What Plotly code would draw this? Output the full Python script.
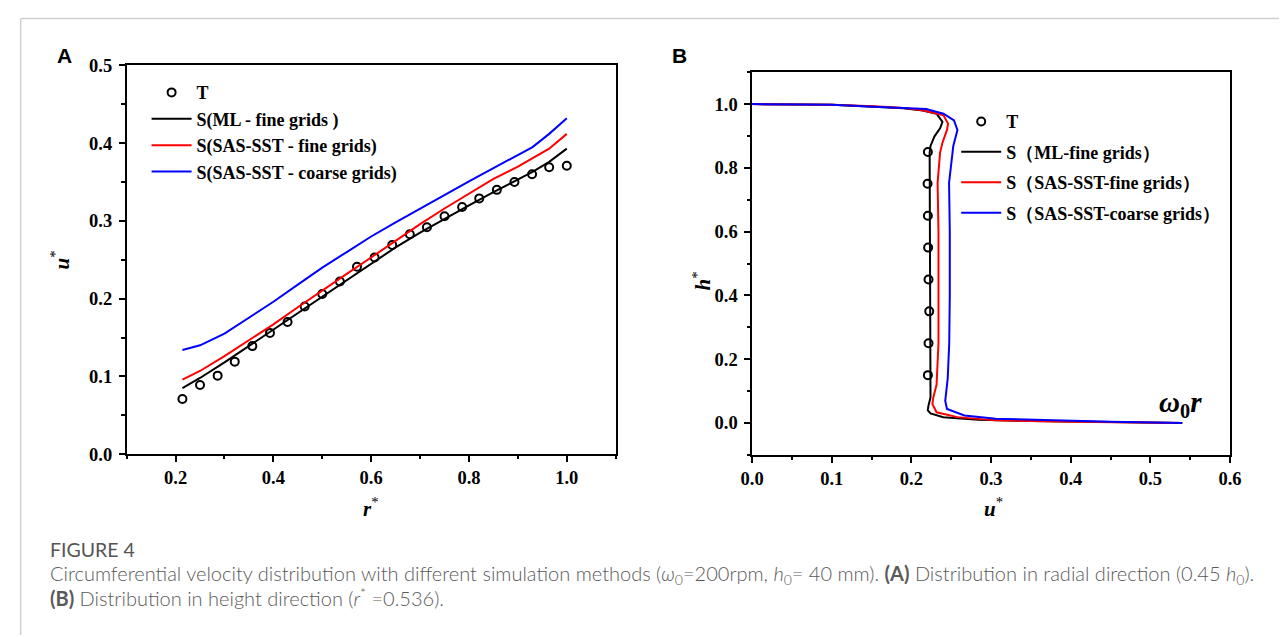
import plotly.graph_objects as go

# ---------------- Panel A data (radial direction) ----------------
r_test = [0.214, 0.250, 0.286, 0.321, 0.357, 0.393, 0.429, 0.464, 0.500, 0.536, 0.571, 0.607,
          0.643, 0.679, 0.714, 0.750, 0.786, 0.821, 0.857, 0.893, 0.929, 0.964, 1.000]
u_test = [0.071, 0.089, 0.101, 0.119, 0.139, 0.156, 0.170, 0.190, 0.206, 0.222, 0.241, 0.253,
          0.269, 0.283, 0.292, 0.306, 0.318, 0.329, 0.340, 0.350, 0.360, 0.369, 0.371]

r_sim = [0.214, 0.25, 0.30, 0.35, 0.40, 0.45, 0.50, 0.55, 0.60, 0.65, 0.70, 0.75, 0.80, 0.85,
         0.90, 0.93, 0.964, 1.0]
u_ml_fine = [0.085, 0.098, 0.118, 0.139, 0.160, 0.181, 0.203, 0.224, 0.245, 0.266, 0.285, 0.303,
             0.320, 0.337, 0.353, 0.363, 0.376, 0.393]
u_sas_fine = [0.096, 0.107, 0.126, 0.146, 0.167, 0.189, 0.211, 0.232, 0.253, 0.275, 0.296, 0.316,
              0.335, 0.354, 0.370, 0.381, 0.393, 0.412]
u_sas_coarse = [0.134, 0.140, 0.155, 0.175, 0.196, 0.218, 0.240, 0.260, 0.280, 0.298, 0.316, 0.334,
                0.351, 0.368, 0.385, 0.395, 0.412, 0.432]

# ---------------- Panel B data (height direction) ----------------
h_test = [0.15, 0.25, 0.35, 0.45, 0.55, 0.65, 0.75, 0.85]
ub_test = [0.2207, 0.2215, 0.2224, 0.2215, 0.2210, 0.2207, 0.2203, 0.2207]

ub_ml = [0.0, 0.05, 0.10, 0.153, 0.19, 0.214, 0.2316, 0.239, 0.236, 0.229, 0.224, 0.2229,
         0.223, 0.2235, 0.2235, 0.2235, 0.224, 0.2215, 0.2205, 0.224, 0.240, 0.284, 0.35, 0.45, 0.54]
hb_ml = [1.0, 0.9995, 0.998, 0.992, 0.987, 0.980, 0.970, 0.944, 0.924, 0.899, 0.869, 0.848,
         0.75, 0.5, 0.3, 0.15, 0.08, 0.055, 0.040, 0.030, 0.018, 0.010, 0.006, 0.003, 0.0]

ub_sas_fine = [0.0, 0.05, 0.10, 0.153, 0.19, 0.214, 0.2403, 0.246, 0.2447, 0.239, 0.236, 0.2329,
               0.234, 0.234, 0.234, 0.2316, 0.2275, 0.2264, 0.2316, 0.2578, 0.306, 0.40, 0.54]
hb_sas_fine = [1.0, 0.9995, 0.998, 0.993, 0.988, 0.981, 0.965, 0.939, 0.919, 0.879, 0.848, 0.753,
               0.6, 0.4, 0.25, 0.12, 0.08, 0.059, 0.0335, 0.0183, 0.0081, 0.004, 0.0]

ub_sas_coarse = [0.0, 0.05, 0.10, 0.153, 0.185, 0.2185, 0.2403, 0.2535, 0.2578, 0.2526, 0.2473,
                 0.2482, 0.2482, 0.2475, 0.2456, 0.2425, 0.2447, 0.2666, 0.306, 0.371, 0.45, 0.54]
hb_sas_coarse = [1.0, 0.9995, 0.998, 0.992, 0.989, 0.985, 0.970, 0.949, 0.919, 0.869, 0.753,
                 0.6, 0.4, 0.25, 0.14, 0.069, 0.0436, 0.0233, 0.0132, 0.0081, 0.004, 0.0]

names_a = ["T", "S(ML - fine grids )", "S(SAS-SST - fine grids)", "S(SAS-SST - coarse grids)"]
names_b = ["T", "S\uff08ML-fine grids\uff09", "S\uff08SAS-SST-fine grids\uff09",
           "S\uff08SAS-SST-coarse grids\uff09"]
colors = ["black", "#ff0000", "#0000ff"]

W, H = 1287, 637
OFF = 8  # default body margin of the page
SERIF = "Liberation Serif, Times New Roman, serif"
CAP = "Lato, Open Sans, sans-serif"

fig = go.Figure()

marker_style = dict(symbol="circle-open", size=8, color="black", line=dict(width=2, color="black"))

# Panel A
fig.add_trace(go.Scatter(x=r_test, y=u_test, mode="markers", marker=marker_style,
                         name="<b>" + names_a[0] + "</b>", legend="legend", legendgroup="a0",
                         xaxis="x", yaxis="y"))
for i, ys in enumerate([u_ml_fine, u_sas_fine, u_sas_coarse]):
    fig.add_trace(go.Scatter(x=r_sim, y=ys, mode="lines", line=dict(color=colors[i], width=2),
                             name="<b>" + names_a[i + 1] + "</b>", legend="legend",
                             legendgroup="a%d" % (i + 1), xaxis="x", yaxis="y"))

# Panel B
fig.add_trace(go.Scatter(x=ub_test, y=h_test, mode="markers", marker=marker_style,
                         name="<b>" + names_b[0] + "</b>", legend="legend2", legendgroup="b0",
                         xaxis="x2", yaxis="y2"))
for i, (xs, ys) in enumerate([(ub_ml, hb_ml), (ub_sas_fine, hb_sas_fine),
                              (ub_sas_coarse, hb_sas_coarse)]):
    fig.add_trace(go.Scatter(x=xs, y=ys, mode="lines", line=dict(color=colors[i], width=2),
                             name="<b>" + names_b[i + 1] + "</b>", legend="legend2",
                             legendgroup="b%d" % (i + 1), xaxis="x2", yaxis="y2"))

tickfont = dict(family=SERIF, size=18.5, color="black", weight="bold")
common = dict(showline=True, linecolor="black", linewidth=1.5, mirror=True, ticks="outside",
              ticklen=6, tickwidth=1.5, tickcolor="black", showgrid=False, zeroline=False,
              tickfont=tickfont, tickformat=".1f")
minor = dict(ticks="outside", ticklen=3.5, tickwidth=1.5, tickcolor="black")


def px_x(p):
    return (p - OFF) / W


def px_y(p):
    return 1 - (p - OFF) / H


fig.update_layout(
    width=W, height=H,
    paper_bgcolor="white", plot_bgcolor="white",
    margin=dict(l=0, r=0, t=0, b=0),
    showlegend=True,
    xaxis=dict(domain=[px_x(116.7), px_x(615)], range=[0.1, 1.1], tick0=0.2, dtick=0.2,
               minor=dict(dtick=0.1, **minor), anchor="y", ticklabelstandoff=0, **common),
    yaxis=dict(domain=[px_y(458.3), px_y(57)], range=[0, 0.5], tick0=0, dtick=0.1,
               minor=dict(dtick=0.05, **minor), anchor="x", ticklabelstandoff=3, **common),
    xaxis2=dict(domain=[px_x(754), px_x(1241)], range=[0, 0.6], tick0=0, dtick=0.1,
                minor=dict(dtick=0.05, **minor), anchor="y2", ticklabelstandoff=0, **common),
    yaxis2=dict(domain=[px_y(459), px_y(64)], range=[-0.1, 1.1], tick0=0, dtick=0.2,
                minor=dict(dtick=0.1, **minor), anchor="x2", ticklabelstandoff=3, **common),
    legend=dict(x=px_x(137), y=px_y(66), xanchor="left", yanchor="top",
                bgcolor="rgba(0,0,0,0)", font=dict(family=SERIF, size=18, color="black"),
                tracegroupgap=0, itemwidth=40),
    legend2=dict(x=px_x(962), y=px_y(96), xanchor="left", yanchor="top",
                 bgcolor="rgba(0,0,0,0)", font=dict(family=SERIF, size=18, color="black"),
                 tracegroupgap=4, itemwidth=40),
)

ann = []
# panel letters
lfont = dict(family="Liberation Sans, Arial", size=21, color="black")
ann.append(dict(x=px_x(53), y=px_y(47), text="<b>A</b>", font=lfont))
ann.append(dict(x=px_x(680), y=px_y(47), text="<b>B</b>", font=lfont))
# axis titles
ttl = dict(family=SERIF, size=21, color="black")
ann.append(dict(x=px_x(49), y=px_y(258), text="<b><i>u</i></b><sup>*</sup>", textangle=-90, font=ttl))
ann.append(dict(x=px_x(366), y=px_y(510), yanchor="top", text="<b><i>r</i></b><sup>*</sup>", font=ttl,
                yshift=12))
ann.append(dict(x=px_x(703), y=px_y(280), text="<b><i>h</i></b><sup>*</sup>", textangle=-90, font=ttl))
ann.append(dict(x=px_x(1000), y=px_y(510), yanchor="top", text="<b><i>u</i></b><sup>*</sup>", font=ttl,
                yshift=12))
# omega0 r label
ann.append(dict(x=px_x(1191), y=px_y(407), text="<b><i>\u03c9</i></b><b><sub>0</sub></b><b><i>r</i></b>",
                font=dict(family=SERIF, size=29, color="black")))
# caption
cap_font = dict(family=CAP, size=20, color="#5a5a5a", weight=300)
ann.append(dict(x=px_x(37), y=px_y(557), text="FIGURE 4", xanchor="left",
                font=dict(family=CAP, size=19.5, color="#555555")))
ann.append(dict(x=px_x(37), y=px_y(583), xanchor="left", font=cap_font,
                text="Circumferential velocity distribution with different simulation methods "
                     "(<i>\u03c9</i><sub>0</sub>=200rpm, <i>h</i><sub>0</sub>= 40 mm). "
                     "<b>(A)</b> Distribution in radial direction (0.45 <i>h</i><sub>0</sub>)."))
ann.append(dict(x=px_x(37), y=px_y(606), xanchor="left", font=cap_font,
                text="<b>(B)</b> Distribution in height direction (<i>r</i><sup>*</sup> =0.536)."))
for a in ann:
    a.setdefault("xref", "paper")
    a.setdefault("yref", "paper")
    a.setdefault("showarrow", False)
    a.setdefault("xanchor", "center")
    a.setdefault("yanchor", "middle")
fig.update_layout(annotations=ann)

# light frame of the figure panel
fig.add_shape(type="line", xref="paper", yref="paper", x0=0.0005, x1=1, y0=0.9993, y1=0.9993,
              line=dict(color="#d0d0d0", width=1.5))
fig.add_shape(type="line", xref="paper", yref="paper", x0=0.0005, x1=0.0005, y0=0.9993, y1=0,
              line=dict(color="#d0d0d0", width=1.5))

fig.write_html("out.html")
